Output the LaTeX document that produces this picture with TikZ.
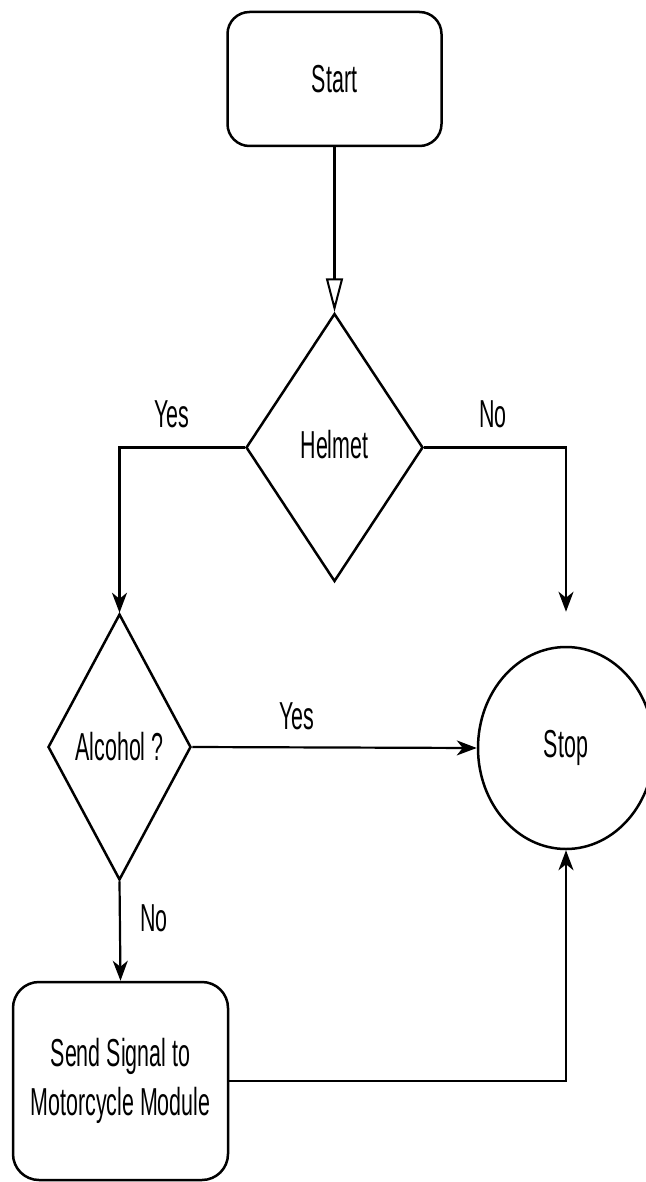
\documentclass[tikz,border=0pt]{standalone}
\usepackage{fontspec}
\setmainfont{Liberation Sans}[FakeStretch=0.55]
\usetikzlibrary{shapes.geometric,arrows.meta}
\begin{document}
\begin{tikzpicture}[x=1pt,y=-1pt,
  every node/.style={font=\fontsize{39}{49}\selectfont, text=black},
  shapebox/.style={draw, line width=2.5pt, rounded corners=22pt, inner sep=0pt, align=center},
  decision/.style={draw, diamond, line width=2.5pt, inner sep=0pt},
  terminal/.style={draw, ellipse, line width=2.5pt, inner sep=0pt},
  conn/.style={line width=2.2pt, -{Stealth[length=20pt,width=15pt,inset=6pt]}},
  openconn/.style={line width=2.2pt, -{Triangle[open, length=34pt, width=17pt, fill=white, line width=2pt]}},
  lbl/.style={inner sep=0pt}]
\useasboundingbox (0,0) rectangle (645,1182);
\node[shapebox, minimum width=214pt, minimum height=134pt] (start) at (334.5,79) {Start};
\node[decision, minimum width=177pt, minimum height=268pt, text depth=7pt] (helmet) at (334.5,447.5) {Helmet};
\node[decision, minimum width=143pt, minimum height=266pt] (alcohol) at (119.5,747) {Alcohol ?};
\node[terminal, minimum width=176pt, minimum height=202pt] (stop) at (566,748) {Stop};
\node[shapebox, rounded corners=26pt, minimum width=215pt, minimum height=198pt] (send) at (120.5,1081) {Send Signal to\\Motorcycle Module};
\draw[openconn] (start.south) -- (helmet.north);
\draw[conn] (helmet.west) -| (alcohol.north);
\draw[conn, shorten >=34pt] (helmet.east) -| (stop.north);
\draw[conn] (alcohol.east) -- (stop.west);
\draw[conn] (alcohol.south) -- (send.north);
\draw[conn] (send.east) -| (stop.south);
\node[lbl] (yes1) at (172,414) {Yes};
\node[lbl] (no1) at (493,414) {No};
\node[lbl] (yes2) at (297,716) {Yes};
\node[lbl] (no2) at (154,918) {No};
\end{tikzpicture}
\end{document}
